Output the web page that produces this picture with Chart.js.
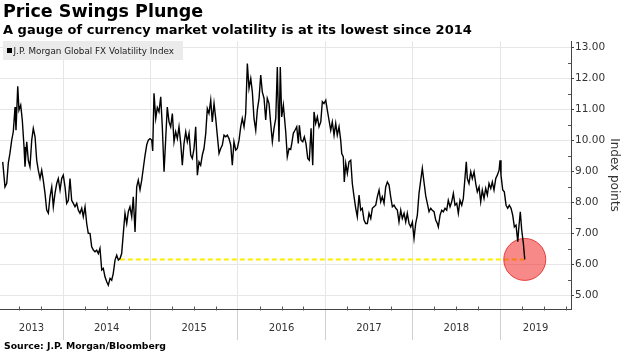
<!DOCTYPE html>
<html><head><meta charset="utf-8">
<script src="https://cdn.jsdelivr.net/npm/chart.js@4.4.1/dist/chart.umd.min.js"></script>
<style>
html,body{margin:0;padding:0;background:#fff;}
#wrap{position:relative;width:627px;height:356px;overflow:hidden;background:#fff;}
#c{position:absolute;left:0;top:0;}
.t{position:absolute;white-space:nowrap;font-family:'DejaVu Sans',sans-serif;color:#000;line-height:normal;}
#title{left:3px;top:1px;font-size:17.5px;font-weight:bold;}
#sub{left:3px;top:22px;font-size:13px;font-weight:bold;}
#legend{position:absolute;left:3px;top:41px;width:180px;height:19px;background:#ebebeb;}
#legend .sq{position:absolute;left:4px;top:7px;width:5px;height:5px;background:#000;}
#legend .lt{left:10.5px;top:5px;font-size:8.8px;color:#222;}
#source{left:4px;top:340px;font-size:9.3px;font-weight:bold;}
</style></head>
<body>
<div id="wrap">
  <canvas id="c" width="627" height="356"></canvas>
  <div class="t" id="title">Price Swings Plunge</div>
  <div class="t" id="sub">A gauge of currency market volatility is at its lowest since 2014</div>
  <div id="legend"><div class="sq"></div><div class="t lt">J.P. Morgan Global FX Volatility Index</div></div>
  <div class="t" id="source">Source: J.P. Morgan/Bloomberg</div>
</div>
<script>
// Dates as decimal years, values in index points
const dates = [2013.310,2013.336,2013.356,2013.374,2013.393,2013.413,2013.431,2013.451,2013.462,2013.482,2013.496,2013.516,2013.534,2013.554,2013.565,2013.585,2013.603,2013.622,2013.642,2013.660,2013.680,2013.699,2013.717,2013.737,2013.756,2013.774,2013.794,2013.813,2013.832,2013.851,2013.871,2013.889,2013.908,2013.928,2013.946,2013.966,2013.985,
2014.003,2014.023,2014.042,2014.061,2014.080,2014.099,2014.118,2014.137,2014.157,2014.175,2014.194,2014.214,2014.232,2014.252,2014.271,2014.289,2014.309,2014.328,2014.347,2014.366,2014.385,2014.404,2014.423,2014.443,2014.461,2014.480,2014.500,2014.518,2014.538,2014.557,2014.575,2014.595,2014.614,2014.633,2014.652,2014.671,2014.690,2014.709,2014.729,2014.747,2014.766,2014.786,2014.804,2014.824,2014.843,2014.861,2014.881,2014.900,2014.919,2014.938,2014.958,2014.976,2014.995,
2015.015,2015.026,2015.041,2015.061,2015.079,2015.098,2015.118,2015.136,2015.156,2015.175,2015.193,2015.213,2015.232,2015.251,2015.270,2015.289,2015.308,2015.327,2015.347,2015.365,2015.384,2015.404,2015.422,2015.442,2015.461,2015.479,2015.499,2015.518,2015.537,2015.556,2015.575,2015.594,2015.613,2015.633,2015.651,2015.670,2015.690,2015.708,2015.728,2015.747,2015.765,2015.785,2015.804,2015.823,2015.842,2015.862,2015.880,2015.899,2015.919,2015.937,2015.956,2015.976,2015.994,
2016.014,2016.033,2016.051,2016.071,2016.090,2016.109,2016.128,2016.148,2016.166,2016.185,2016.205,2016.223,2016.243,2016.262,2016.280,2016.300,2016.319,2016.337,2016.357,2016.376,2016.395,2016.414,2016.434,2016.452,2016.471,2016.486,2016.502,2016.521,2016.548,2016.566,2016.586,2016.605,2016.617,2016.635,2016.654,2016.674,2016.692,2016.704,2016.723,2016.743,2016.761,2016.780,2016.800,2016.818,2016.838,2016.857,2016.872,2016.891,2016.910,2016.929,2016.949,2016.967,2016.986,
2017.006,2017.024,2017.043,2017.063,2017.081,2017.101,2017.120,2017.138,2017.158,2017.177,2017.189,2017.207,2017.218,2017.235,2017.253,2017.272,2017.292,2017.310,2017.330,2017.349,2017.367,2017.387,2017.406,2017.424,2017.444,2017.463,2017.482,2017.501,2017.521,2017.539,2017.558,2017.578,2017.596,2017.616,2017.635,2017.653,2017.673,2017.692,2017.711,2017.730,2017.749,2017.768,2017.787,2017.807,2017.825,2017.844,2017.864,2017.882,2017.902,2017.921,2017.939,2017.959,2017.978,2017.997,
2018.016,2018.035,2018.054,2018.073,2018.093,2018.111,2018.130,2018.150,2018.168,2018.188,2018.207,2018.225,2018.245,2018.264,2018.283,2018.294,2018.314,2018.333,2018.351,2018.371,2018.390,2018.408,2018.428,2018.447,2018.466,2018.485,2018.505,2018.523,2018.542,2018.562,2018.580,2018.600,2018.614,2018.626,2018.645,2018.665,2018.683,2018.703,2018.722,2018.740,2018.760,2018.779,2018.797,2018.817,2018.836,2018.855,2018.874,2018.894,2018.912,2018.931,2018.951,2018.969,2018.989,
2019.000,2019.011,2019.031,2019.049,2019.069,2019.088,2019.106,2019.126,2019.145,2019.164,2019.183,2019.203,2019.214,2019.232,2019.248,2019.267,2019.283];

const values = [9.30,8.49,8.61,9.26,9.58,10.00,10.27,11.07,10.32,11.74,10.97,11.13,10.65,9.78,9.14,9.95,9.35,9.14,10.00,10.38,10.11,9.35,9.03,8.76,9.03,8.71,8.28,7.74,7.64,8.17,8.49,7.85,8.28,8.60,8.76,8.39,8.76,
8.87,8.49,7.96,8.06,8.76,8.06,7.96,7.85,7.96,7.74,7.64,7.80,7.53,7.85,7.31,6.99,6.99,6.56,6.45,6.40,6.45,6.34,6.51,5.81,5.86,5.59,5.43,5.32,5.54,5.48,5.70,6.13,6.29,6.13,6.18,6.34,6.99,7.64,7.31,7.69,7.85,7.53,8.17,7.04,8.49,8.71,8.40,8.70,9.10,9.50,9.85,10.00,10.05,
10.00,9.65,11.51,10.70,11.05,10.91,11.40,10.43,8.98,10.05,11.07,10.59,10.43,10.86,9.95,10.27,10.05,10.43,9.89,9.19,9.89,10.27,9.95,10.22,9.52,9.41,9.73,10.43,8.87,9.30,9.19,9.52,9.73,10.22,11.02,10.86,11.29,10.59,11.18,10.70,10.16,9.57,9.73,9.84,10.16,10.11,10.16,10.05,9.84,9.19,9.95,9.68,9.73,
10.00,10.43,10.70,10.43,10.86,12.47,11.67,11.99,11.56,10.70,10.32,10.97,11.35,12.10,11.56,11.35,10.65,11.35,11.18,10.54,9.95,10.38,10.70,12.36,9.95,12.36,10.75,11.13,10.27,9.46,9.73,9.70,9.89,10.22,10.32,10.43,9.89,10.48,10.00,9.95,10.11,9.89,9.41,9.35,10.38,9.19,10.91,10.54,10.75,10.43,10.59,11.24,11.18,
11.29,10.97,10.65,10.32,10.59,10.16,10.54,10.16,10.43,10.00,9.57,9.46,8.65,9.25,8.93,9.30,9.35,8.60,8.17,7.80,7.53,8.23,7.74,7.80,7.42,7.31,7.31,7.64,7.47,7.80,7.85,7.90,8.17,8.39,8.01,8.17,7.96,8.49,8.65,8.55,8.17,7.85,7.90,7.80,7.74,7.36,7.74,7.47,7.64,7.36,7.64,7.31,7.20,7.36,
6.83,7.31,7.58,8.28,8.71,9.09,8.65,8.20,7.96,7.69,7.80,7.74,7.69,7.42,7.31,7.20,7.58,7.74,7.69,7.80,7.74,8.06,7.85,8.01,8.28,7.90,7.96,7.64,8.06,7.90,8.12,8.82,9.30,8.76,8.60,8.98,8.76,8.98,8.60,8.33,8.49,8.01,8.39,8.12,8.44,8.23,8.60,8.44,8.65,8.39,8.76,8.87,9.03,
9.35,8.87,8.39,8.33,7.90,7.80,7.90,7.80,7.58,7.20,7.26,6.72,7.15,7.69,7.10,6.67,6.15];

const yTicks = [5,6,7,8,9,10,11,12,13];
const yearBreaks = [2014,2015,2016,2017,2018,2019];
const yearLabels = ['2013','2014','2015','2016','2017','2018','2019'];
const seriesName = 'J.P. Morgan Global FX Volatility Index';
const refStart = 2014.650;   // where the index last stood at today's level
const xMin = 2013.279, xMax = 2019.812;
const yMin = 4.55, yMax = 13.2;

const lastDate = dates[dates.length-1];
const lastValue = values[values.length-1];

const extras = {
  id: 'extras',
  afterDraw(chart) {
    const ctx = chart.ctx, a = chart.chartArea;
    const xs = chart.scales.x, ys = chart.scales.y;
    ctx.save();
    ctx.strokeStyle = '#555';
    ctx.lineWidth = 1;
    // minor quarterly ticks on x axis
    for (let q = Math.ceil(xMin*4)/4; q <= xMax; q += 0.25) {
      if (Math.abs(q - Math.round(q)) < 1e-6) continue;
      const px = Math.round(xs.getPixelForValue(q)) + 0.5;
      ctx.beginPath(); ctx.moveTo(px, a.bottom - 2.5); ctx.lineTo(px, a.bottom + 1.5); ctx.stroke();
    }
    // minor half ticks on y axis
    for (let v = 5.5; v < yMax; v += 1) {
      const py = Math.round(ys.getPixelForValue(v)) + 0.5;
      ctx.beginPath(); ctx.moveTo(a.right - 3, py); ctx.lineTo(a.right, py); ctx.stroke();
    }
    // year labels centred in the visible part of each year
    ctx.fillStyle = '#333';
    ctx.font = '10px "DejaVu Sans"';
    ctx.textAlign = 'center';
    ctx.textBaseline = 'middle';
    yearLabels.forEach(lab => {
      const y0 = Math.max(+lab, xMin), y1 = Math.min(+lab + 1, xMax);
      const cx = (xs.getPixelForValue(y0) + xs.getPixelForValue(y1)) / 2;
      ctx.fillText(lab, cx, a.bottom + 19);
    });
    ctx.restore();
  }
};

new Chart(document.getElementById('c'), {
  type: 'line',
  data: {
    datasets: [
      {
        label: seriesName,
        data: dates.map((d, i) => ({x: d, y: values[i]})),
        borderColor: '#000',
        borderWidth: 1.4,
        pointRadius: 0,
        tension: 0,
        order: 0
      },
      {
        label: 'level',
        data: [{x: refStart, y: lastValue}, {x: lastDate, y: lastValue}],
        borderColor: '#ffee00',
        borderWidth: 2,
        borderDash: [5, 3],
        pointRadius: 0,
        order: 2
      },
      {
        label: 'latest',
        data: [{x: lastDate, y: lastValue}],
        showLine: false,
        pointRadius: 21,
        pointHoverRadius: 21,
        pointBackgroundColor: 'rgba(240,40,40,0.55)',
        pointBorderColor: 'rgba(225,30,30,0.8)',
        pointBorderWidth: 1,
        order: 1
      }
    ]
  },
  options: {
    responsive: false,
    animation: false,
    events: [],
    layout: {autoPadding: false, padding: {top: 41, left: 0, right: 0, bottom: 0}},
    plugins: {legend: {display: false}, tooltip: {enabled: false}},
    scales: {
      x: {
        type: 'linear',
        min: xMin, max: xMax,
        afterBuildTicks: s => { s.ticks = yearBreaks.map(v => ({value: v})); },
        afterFit: s => { s.height = 47; },
        ticks: {display: false},
        grid: {color: '#e6e6e6', lineWidth: 1, drawTicks: true, tickLength: 31, tickColor: '#cfcfcf'},
        border: {display: true, color: '#444', width: 1}
      },
      y: {
        type: 'linear',
        position: 'right',
        min: yMin, max: yMax,
        afterBuildTicks: s => { s.ticks = yTicks.map(v => ({value: v})); },
        afterFit: s => { s.width = 56; },
        ticks: {
          callback: v => v.toFixed(2),
          font: {family: 'DejaVu Sans', size: 10.5},
          color: '#333',
          padding: 1
        },
        grid: {color: '#e6e6e6', lineWidth: 1, drawTicks: true, tickLength: 3, tickColor: '#444'},
        border: {display: true, color: '#444', width: 1},
        title: {
          display: true,
          text: 'Index points',
          font: {family: 'DejaVu Sans', size: 12},
          color: '#333',
          padding: {top: 6, bottom: 0}
        }
      }
    }
  },
  plugins: [extras]
});
</script>
</body></html>
